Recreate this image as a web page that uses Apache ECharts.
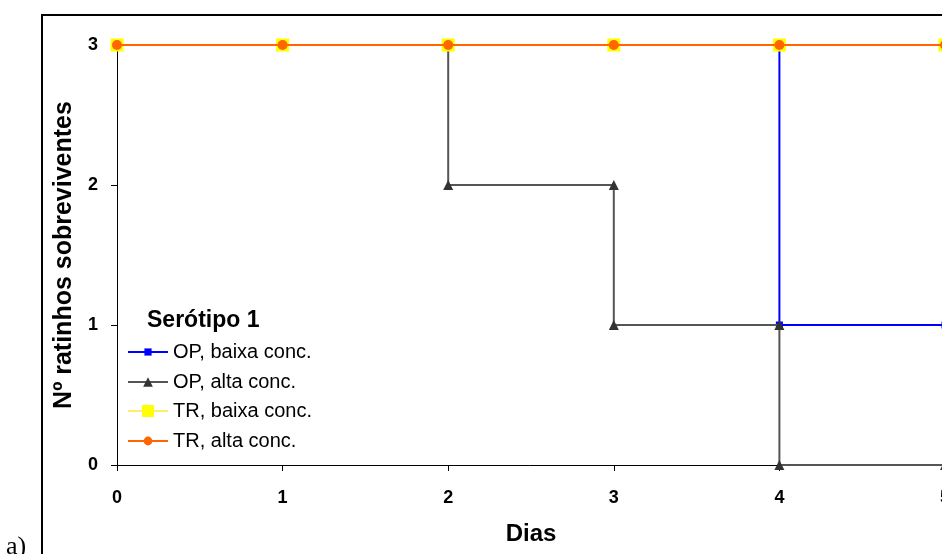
<!DOCTYPE html>
<html>
<head>
<meta charset="utf-8">
<script src="https://cdn.jsdelivr.net/npm/echarts@6/dist/echarts.min.js"></script>
<style>
html, body { margin: 0; padding: 0; background: #fff; }
#chart { width: 942px; height: 554px; }
</style>
</head>
<body>
<div id="chart"></div>
<script>
// valores (curvas em escada)
var opBaixaX = [0, 1, 2, 3, 4, 4, 5];
var opBaixaY = [3, 3, 3, 3, 3, 1, 1];
var opAltaX = [0, 1, 2, 2, 3, 3, 4, 4, 5];
var opAltaY = [3, 3, 3, 2, 2, 1, 1, 0, 0];
var trBaixaX = [0, 1, 2, 3, 4, 5];
var trBaixaY = [3, 3, 3, 3, 3, 3];
var trAltaX = [0, 1, 2, 3, 4, 5];
var trAltaY = [3, 3, 3, 3, 3, 3];
var nomes = ['OP, baixa conc.', 'OP, alta conc.', 'TR, baixa conc.', 'TR, alta conc.'];

function pares(xs, ys) {
	var out = [];
	for (var i = 0; i < xs.length; i++) {
		out.push([xs[i], ys[i]]);
	}
	return out;
}

var fonte = 'Arial, "Liberation Sans", sans-serif';

function serie(nome, xs, ys, cor, corLinha, simbolo, tam, z) {
	return {
		name: nome,
		type: 'line',
		data: pares(xs, ys),
		symbol: simbolo,
		symbolSize: tam,
		showAllSymbol: true,
		z: z,
		lineStyle: { color: corLinha, width: 2 },
		itemStyle: { color: cor, borderWidth: 0 },
		emphasis: { disabled: true }
	};
}

function legenda(nome, altura, centro) {
	return {
		data: [nome],
		orient: 'vertical',
		left: 127,
		top: centro - 11,
		itemWidth: 40,
		itemHeight: altura,
		padding: 0,
		selectedMode: false,
		textStyle: { fontFamily: fonte, fontSize: 20, color: '#000' }
	};
}

var chart = echarts.init(document.getElementById('chart'));
chart.setOption({
	animation: false,
	backgroundColor: '#fff',
	grid: { left: 117, right: -3, top: 45, bottom: 89, outerBoundsMode: 'none', containLabel: false },
	legend: [
		legenda(nomes[0], 9, 353),
		legenda(nomes[1], 12, 383),
		legenda(nomes[2], 15, 412),
		legenda(nomes[3], 11, 442)
	],
	xAxis: {
		type: 'value',
		min: 0,
		max: 5,
		interval: 1,
		name: 'Dias',
		nameLocation: 'middle',
		nameGap: 57,
		nameTextStyle: { fontFamily: fonte, fontSize: 24, fontWeight: 'bold', color: '#000' },
		axisLine: { lineStyle: { color: '#000', width: 1 } },
		axisTick: { length: 6, lineStyle: { color: '#000' } },
		axisLabel: { margin: 24, fontFamily: fonte, fontSize: 18, fontWeight: 'bold', color: '#000' },
		splitLine: { show: false }
	},
	yAxis: {
		type: 'value',
		min: 0,
		max: 3,
		interval: 1,
		name: 'Nº ratinhos sobreviventes',
		nameLocation: 'middle',
		nameGap: 40,
		nameTextStyle: { fontFamily: fonte, fontSize: 25, fontWeight: 'bold', color: '#000' },
		axisLine: { show: true, lineStyle: { color: '#000', width: 1 } },
		axisTick: { show: true, length: 6, lineStyle: { color: '#000' } },
		axisLabel: { margin: 19, fontFamily: fonte, fontSize: 18, fontWeight: 'bold', color: '#000' },
		splitLine: { show: false }
	},
	graphic: [
		{
			type: 'rect',
			shape: { x: 42, y: 15, width: 1000, height: 600 },
			style: { fill: 'none', stroke: '#000', lineWidth: 2 },
			silent: true
		},
		{
			type: 'text',
			left: 147,
			top: 309,
			style: { text: 'Serótipo 1', font: 'bold 23px ' + fonte, fill: '#000' }
		},
		{
			type: 'text',
			left: 6,
			top: 534,
			style: { text: 'a)', font: '26px "Liberation Serif", "Times New Roman", serif', fill: '#000' }
		}
	],
	series: [
		serie(nomes[0], opBaixaX, opBaixaY, '#0000ff', '#0000ff', 'rect', 7, 2),
		serie(nomes[1], opAltaX, opAltaY, '#333333', '#555555', 'triangle', 10, 3),
		serie(nomes[2], trBaixaX, trBaixaY, '#ffff00', '#ffee66', 'rect', 13, 4),
		serie(nomes[3], trAltaX, trAltaY, '#ff6600', '#ff6600', 'circle', 10, 5)
	]
});
</script>
</body>
</html>
